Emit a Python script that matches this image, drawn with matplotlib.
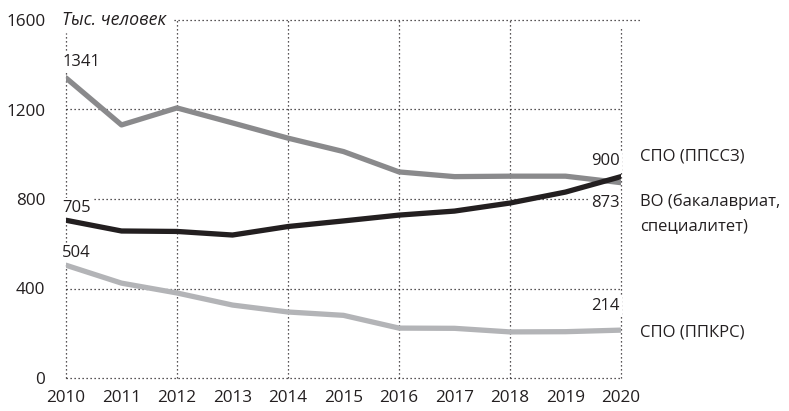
import matplotlib
matplotlib.use("Agg")
import matplotlib.pyplot as plt

years = [2010, 2011, 2012, 2013, 2014, 2015, 2016, 2017, 2018, 2019, 2020]
sposs = [1341, 1131, 1207, 1140, 1072, 1012, 921, 900, 902, 902, 873]
vo = [705, 657, 655, 639, 677, 702, 728, 746, 782, 831, 900]
spokrs = [504, 424, 380, 326, 295, 280, 223, 222, 206, 207, 214]
yticks = [0, 400, 800, 1200, 1600]
series_names = ["СПО (ППССЗ)", "ВО (бакалавриат,\nспециалитет)", "СПО (ППКРС)"]

plt.rcParams['font.family'] = ['Open Sans', 'DejaVu Sans']
W, H = 789, 411
FS = 12
fig = plt.figure(figsize=(W/100, H/100), dpi=100)
x0, x1, y0, y1 = 66, 621, 378, 20
ax = fig.add_axes([x0/W, 1 - y0/H, (x1-x0)/W, (y0-y1)/H])
ax.set_xlim(2010, 2020)
ax.set_ylim(0, 1600)
for s in ax.spines.values():
    s.set_visible(False)
ax.set_xticks(years)
ax.set_yticks(yticks)
ax.tick_params(length=0, labelsize=12.3, colors='#231f20')
ax.tick_params(axis='x', pad=8.5)
ax.tick_params(axis='y', pad=15)

gs = dict(color='#231f20', lw=0.9, ls=(0, (1, 2.2)), zorder=1, clip_on=False)
for yv in yticks[:-1]:
    ax.plot([2010, 2020], [yv, yv], **gs)
ax.plot([2010 + 1.95, 2020.37], [1600, 1600], **gs)
for xv in years[::2]:
    top = 1540 if xv == 2010 else (1570 if xv == 2020 else 1600)
    ax.plot([xv, xv], [0, top], **gs)

c1, c2, c3 = '#8a8a8c', '#231f20', '#b3b4b7'
lk = dict(lw=3.8, solid_joinstyle='round', solid_capstyle='round', zorder=3)
ax.plot(years, sposs, color=c1, **lk)
ax.plot(years, spokrs, color=c3, **lk)
ax.plot(years, vo, color=c2, **lk)

box = dict(facecolor='white', edgecolor='none', pad=1.5)
tk = dict(fontsize=FS, color='#231f20', zorder=2, bbox=box)
ax.text(2009.93, 1600, "Тыс. человек", style='italic', ha='left', va='center',
        fontsize=12.8, color='#231f20', zorder=2, bbox=box)
ax.text(2009.93, sposs[0] + 72, str(sposs[0]), ha='left', va='center', **tk)
ax.text(2009.93, vo[0] + 54, str(vo[0]), ha='left', va='center', **tk)
ax.text(2009.93, spokrs[0] + 54, str(spokrs[0]), ha='left', va='center', **tk)
ax.text(2019.98, vo[-1] + 35, str(vo[-1]), ha='right', va='bottom', **tk)
ax.text(2019.97, sposs[-1] - 55, str(sposs[-1]), ha='right', va='top', **tk)
ax.text(2019.98, spokrs[-1] + 70, str(spokrs[-1]), ha='right', va='bottom', **tk)

lx = 2020.34
ax.text(lx, 990, series_names[0], ha='left', va='center', fontsize=FS, color='#231f20')
ax.text(lx, 733, series_names[1], ha='left', va='center', fontsize=FS, color='#231f20', linespacing=1.7)
ax.text(lx, 205, series_names[2], ha='left', va='center', fontsize=FS, color='#231f20')

fig.savefig("out.png", dpi=100)
